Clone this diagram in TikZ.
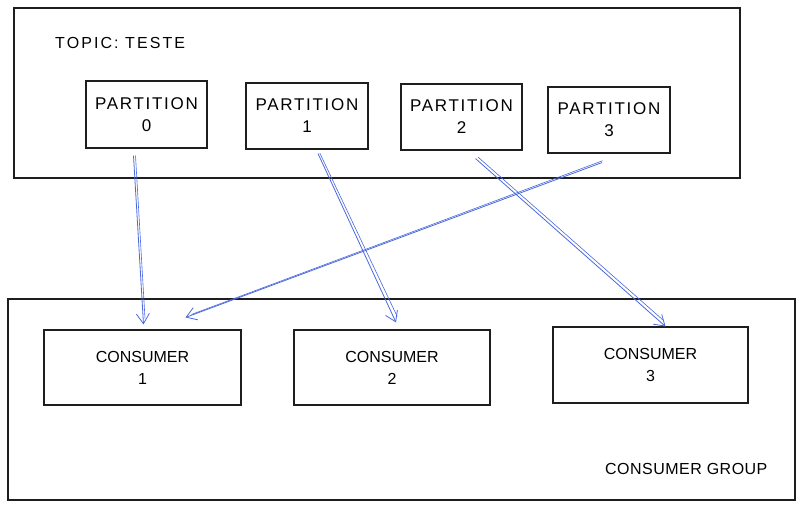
\documentclass[tikz,border=0pt]{standalone}
\usepackage{fontspec}
\setmainfont{Liberation Sans}
\usetikzlibrary{arrows.meta,calc}
\definecolor{ink}{RGB}{30,30,30}
\definecolor{arr}{RGB}{74,104,222}
\tikzset{
  box/.style={draw=ink, line width=1.1pt, minimum width=#1, inner sep=0pt, align=center,
    font=\fontsize{16}{22}\selectfont},
  pbox/.style={box=#1, font=\fontsize{17}{22}\selectfont\addfontfeature{LetterSpace=10}},
  frame/.style={draw=ink, line width=1.1pt, inner sep=0pt},
  txt/.style={font=\fontsize{16}{20}\selectfont, inner sep=0pt, anchor=west},
  flow/.style={draw=arr, line width=0.8pt, -{Straight Barb[length=10pt,width=13pt,line width=0.8pt]}},
  flowb/.style={draw=arr, line width=0.6pt}
}
\begin{document}
\begin{tikzpicture}[x=1pt,y=-1pt]
\useasboundingbox (0,0) rectangle (800,509);
% frames
\node[frame, minimum width=726pt, minimum height=170pt] (topic) at (377,93) {};
\node[frame, minimum width=787pt, minimum height=201pt] (group) at (401.5,399.5) {};
\node[txt, font=\fontsize{16}{20}\selectfont\addfontfeature{LetterSpace=13}] (tlabel) at (55,43) {TOPIC: TESTE};
\node[txt, font=\fontsize{16}{20}\selectfont\addfontfeature{LetterSpace=3}] (glabel) at (605,469) {CONSUMER GROUP};
% partitions
\node[pbox=121pt, minimum height=67pt] (p0) at (146.5,114.5) {PARTITION\\0};
\node[pbox=122pt, minimum height=66pt] (p1) at (307,116) {PARTITION\\1};
\node[pbox=121pt, minimum height=66pt] (p2) at (461.5,117) {PARTITION\\2};
\node[pbox=122pt, minimum height=66pt] (p3) at (609,120) {PARTITION\\3};
% consumers
\node[box=197pt, minimum height=75pt] (c1) at (142.5,367.5) {CONSUMER\\1};
\node[box=196pt, minimum height=75pt] (c2) at (392,367.5) {CONSUMER\\2};
\node[box=195pt, minimum height=76pt] (c3) at (650.5,365) {CONSUMER\\3};
% arrows
\coordinate (a0s) at ($(p0.south)+(-13,7)$);
\coordinate (a0e) at ($(c1.north)+(1,-5)$);
\coordinate (a1s) at ($(p1.south)+(11,4)$);
\coordinate (a1e) at ($(c2.north)+(4,-7)$);
\coordinate (a2s) at ($(p2.south)+(14,8)$);
\coordinate (a2e) at ($(c3.north)+(15,0)$);
\coordinate (a3s) at ($(p3.south)+(-7,9)$);
\coordinate (a3e) at ($(c1.north)+(43,-12)$);
\draw[flow] (a0s) -- (a0e);
\draw[flowb] ($(a0s)+(2,0)$) -- ($(a0e)+(1.5,-6)$);
\draw[flow] (a1s) -- (a1e);
\draw[flowb] ($(a1s)+(1.8,-0.5)$) -- ($(a1e)+(1.2,-6)$);
\draw[flow] (a2s) -- (a2e);
\draw[flowb] ($(a2s)+(2.5,-1.5)$) -- ($(a2e)+(-2,-6)$);
\draw[flow] (a3s) -- (a3e);
\draw[flowb] ($(a3s)+(0.5,-1.8)$) -- ($(a3e)+(6,-3)$);
\end{tikzpicture}
\end{document}
